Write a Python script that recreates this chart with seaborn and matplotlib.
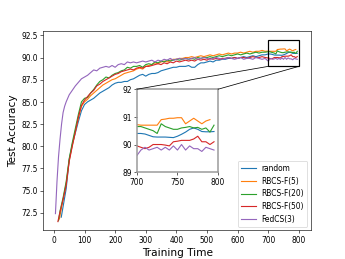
import numpy as np
import matplotlib
matplotlib.use('Agg')
import matplotlib.pyplot as plt
from matplotlib.patches import Rectangle, ConnectionPatch
import seaborn as sns

# shared x grid for the middle and the zoomed tail
x_mid = list(range(110, 700, 10))

# random
random_x = [24, 30, 40, 50, 60, 70, 80, 90, 100] + x_mid + list(range(700, 800, 5))
random_y = [72.0, 73.2, 75.2, 78.5, 80.2, 81.5, 82.8, 84.0, 84.7,
            85.0, 85.2, 85.4, 85.7, 86.0, 86.2, 86.4, 86.6, 86.9, 87.1,
            87.2, 87.2, 87.3, 87.3, 87.5, 87.6, 87.8, 88.0, 88.1, 87.9,
            88.1, 88.2, 88.2, 88.3, 88.5, 88.6, 88.7, 88.8, 88.9, 88.9,
            89.0, 89.0, 89.0, 89.1, 88.9, 88.9, 89.2, 89.4, 89.4, 89.5,
            89.6, 89.5, 89.7, 89.7, 89.8, 89.8, 89.9, 89.9, 90.0, 89.9,
            90.0, 90.1, 90.0, 90.1, 90.2, 90.1, 90.2, 90.3, 90.3,
            90.4, 90.4, 90.38, 90.33, 90.28, 90.27, 90.27, 90.27, 90.26, 90.25,
            90.3, 90.37, 90.45, 90.55, 90.6, 90.55, 90.47, 90.46, 90.46, 90.47]

# RBCS-F(5)
rbcs5_x = [18, 30, 40, 50, 60, 70, 80, 90, 100] + x_mid + list(range(700, 795, 5))
rbcs5_y = [71.8, 74.0, 75.8, 78.4, 80.1, 81.7, 83.2, 84.5, 85.0,
           85.3, 85.7, 86.0, 86.3, 86.6, 86.9, 87.1, 87.3, 87.5, 87.6,
           87.8, 88.0, 88.2, 88.3, 88.4, 88.5, 88.7, 88.8, 88.7, 89.0,
           89.1, 89.2, 89.4, 89.3, 89.5, 89.6, 89.5, 89.7, 89.8, 89.8,
           89.9, 89.9, 90.0, 90.0, 90.1, 90.0, 90.1, 90.2, 90.1, 90.2,
           90.3, 90.2, 90.3, 90.4, 90.3, 90.4, 90.5, 90.4, 90.5, 90.5,
           90.6, 90.5, 90.6, 90.7, 90.6, 90.7, 90.7, 90.8, 90.7,
           90.72, 90.7, 90.7, 90.7, 90.7, 90.7, 90.9, 90.92, 90.95, 90.95,
           90.97, 90.97, 90.75, 90.85, 90.95, 90.85, 90.75, 90.85, 90.9]

# RBCS-F(20)
rbcs20_x = [15, 20, 30, 40, 50, 60, 70, 80, 90, 100] + x_mid + list(range(700, 800, 5))
rbcs20_y = [71.6, 72.7, 74.2, 76.0, 78.6, 80.4, 82.0, 83.6, 85.0, 85.4,
            85.5, 86.0, 86.4, 86.9, 87.3, 87.5, 87.8, 87.7, 88.0, 88.2,
            88.3, 88.5, 88.6, 88.9, 88.8, 89.0, 89.0, 89.1, 88.9, 89.2,
            89.3, 89.2, 89.5, 89.4, 89.6, 89.5, 89.7, 89.6, 89.7, 89.8,
            89.7, 89.8, 89.9, 89.8, 89.9, 89.8, 90.0, 89.9, 90.0, 90.0,
            90.1, 90.0, 90.1, 90.2, 90.1, 90.2, 90.3, 90.2, 90.3, 90.4,
            90.3, 90.4, 90.5, 90.4, 90.5, 90.6, 90.5, 90.6, 90.6,
            90.65, 90.65, 90.6, 90.55, 90.5, 90.4, 90.75, 90.65, 90.6, 90.55,
            90.55, 90.6, 90.62, 90.65, 90.6, 90.62, 90.55, 90.6, 90.45, 90.7]

# RBCS-F(50)
rbcs50_x = [13, 20, 30, 40, 50, 60, 70, 80, 90, 100] + x_mid + list(range(700, 800, 5))
rbcs50_y = [71.5, 72.6, 74.0, 75.6, 78.3, 80.0, 81.6, 83.3, 84.6, 85.2,
            85.6, 86.0, 86.3, 86.8, 87.0, 87.3, 87.5, 87.7, 87.9, 88.1,
            88.2, 88.4, 88.5, 88.6, 88.7, 88.6, 88.8, 88.9, 88.8, 89.0,
            89.0, 89.1, 89.2, 89.3, 89.2, 89.4, 89.3, 89.5, 89.4, 89.6,
            89.5, 89.6, 89.7, 89.6, 89.7, 89.6, 89.8, 89.7, 89.8, 89.7,
            89.9, 89.8, 89.9, 89.8, 89.9, 89.9, 90.0, 89.9, 90.0, 89.9,
            90.0, 90.0, 89.9, 90.0, 90.1, 90.0, 90.0, 90.1, 90.0,
            89.95, 89.9, 89.85, 89.9, 90.0, 90.0, 90.0, 89.98, 89.95, 90.1,
            90.12, 90.15, 90.15, 90.15, 90.2, 90.3, 90.1, 90.1, 90.0, 90.1]

# FedCS(3)
fedcs_x = [5, 10, 15, 20, 25, 30, 35, 40, 50, 60, 70, 80, 90, 100] + x_mid + list(range(700, 800, 5))
fedcs_y = [72.4, 76.0, 78.8, 80.8, 82.5, 83.8, 84.5, 85.0, 85.8, 86.3, 86.8, 87.2, 87.6, 87.8,
           88.0, 88.3, 88.6, 88.5, 88.8, 88.9, 89.0, 88.9, 89.1, 88.9,
           89.2, 89.3, 89.2, 89.5, 89.4, 89.5, 89.4, 89.5, 89.6, 89.5,
           89.6, 89.7, 89.5, 89.7, 89.6, 89.8, 89.7, 89.9, 89.7, 89.8,
           89.9, 89.8, 89.9, 89.8, 89.9, 90.0, 89.8, 89.9, 90.0, 89.9,
           89.8, 89.9, 90.0, 89.9, 89.8, 89.9, 90.0, 89.9, 89.8, 89.9,
           90.0, 89.8, 89.9, 89.9, 89.8, 90.0, 89.9, 89.8, 89.9,
           89.6, 89.8, 89.9, 89.8, 89.85, 89.9, 89.8, 89.9, 89.8, 89.95,
           89.8, 90.0, 89.8, 89.95, 89.85, 89.85, 89.75, 89.9, 89.85, 89.8]

series = [
    ('random', random_x, random_y, 'tab:blue'),
    ('RBCS-F(5)', rbcs5_x, rbcs5_y, 'tab:orange'),
    ('RBCS-F(20)', rbcs20_x, rbcs20_y, 'tab:green'),
    ('RBCS-F(50)', rbcs50_x, rbcs50_y, 'tab:red'),
    ('FedCS(3)', fedcs_x, fedcs_y, 'tab:purple'),
]

fig = plt.figure(figsize=(6.4, 4.8), dpi=54)
ax = fig.add_subplot(111)

for name, xs, ys, c in series:
    sns.lineplot(x=xs, y=ys, ax=ax, color=c, label=name, linewidth=1.5, sort=False)

ax.set_xlim(-35, 840)
ax.set_ylim(70.5, 93.0)
ax.set_xticks([0, 100, 200, 300, 400, 500, 600, 700, 800])
ax.set_yticks([72.5, 75.0, 77.5, 80.0, 82.5, 85.0, 87.5, 90.0, 92.5])
ax.set_xlabel('Training Time', fontsize=14)
ax.set_ylabel('Test Accuracy', fontsize=14)
ax.legend(loc='lower right', fontsize=10)

# zoom box on the main axes
ax.add_patch(Rectangle((700, 89), 100, 3, fill=False, edgecolor='black', linewidth=1.6, zorder=5))

# inset
axins = fig.add_axes([0.396, 0.335, 0.235, 0.32])
for name, xs, ys, c in series:
    sns.lineplot(x=xs, y=ys, ax=axins, color=c, linewidth=1.5, sort=False)
axins.set_xlim(700, 800)
axins.set_ylim(89, 92)
axins.set_xticks([700, 750, 800])
axins.set_yticks([89, 90, 91, 92])
for s in axins.spines.values():
    s.set_color('#999999')
    s.set_linewidth(2)

for xa in [700, 800]:
    con = ConnectionPatch(xyA=(xa, 92), coordsA=axins.transData,
                          xyB=(xa, 89), coordsB=ax.transData,
                          color='black', linewidth=1)
    fig.add_artist(con)

plt.savefig('out.png', dpi=54)
